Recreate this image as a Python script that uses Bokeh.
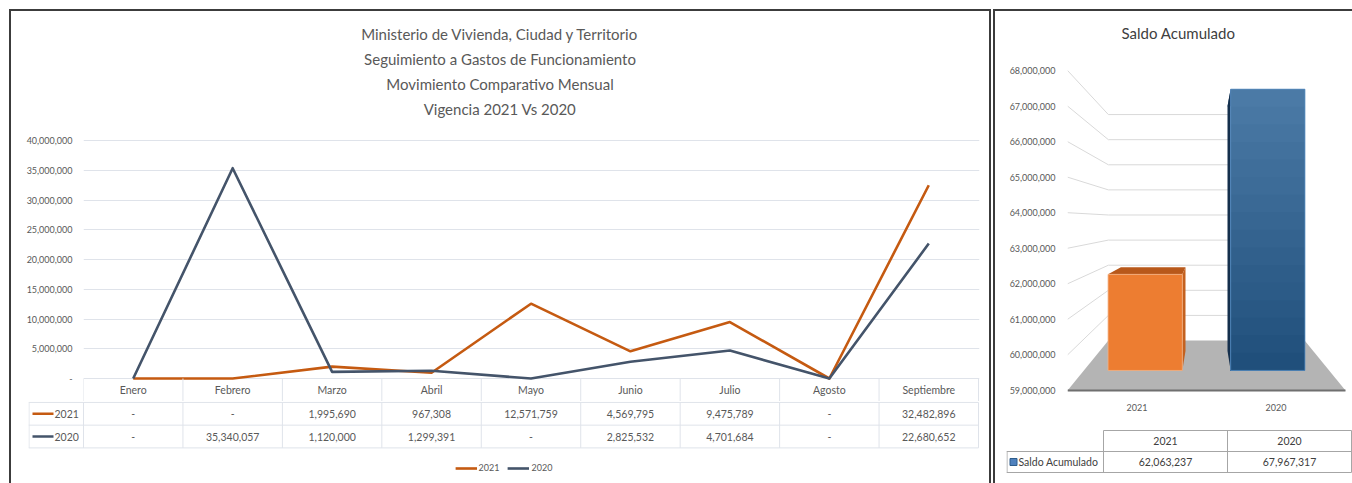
from bokeh.plotting import figure
from bokeh.models import Range1d, FixedTicker, NumeralTickFormatter, Legend, LegendItem
from bokeh.layouts import row, column
from bokeh.embed import file_html
from bokeh.resources import INLINE

# ---------------- data ----------------
months = ["Enero", "Febrero", "Marzo", "Abril", "Mayo", "Junio", "Julio", "Agosto", "Septiembre"]
v2021 = [0, 0, 1995690, 967308, 12571759, 4569795, 9475789, 0, 32482896]
v2020 = [0, 35340057, 1120000, 1299391, 0, 2825532, 4701684, 0, 22680652]
series_names = ["2021", "2020"]
title_lines = ["Ministerio de Vivienda, Ciudad y Territorio",
               "Seguimiento a Gastos de Funcionamiento",
               "Movimiento Comparativo Mensual",
               "Vigencia 2021 Vs 2020"]
left_ticks = [0, 5000000, 10000000, 15000000, 20000000, 25000000, 30000000, 35000000, 40000000]

saldo_title = "Saldo Acumulado"
saldo_cats = ["2021", "2020"]
saldo_vals = [62063237, 67967317]
right_ticks = [59000000, 60000000, 61000000, 62000000, 63000000, 64000000,
               65000000, 66000000, 67000000, 68000000]

# ---------------- style ----------------
FONT = "Lato"
TXT = "#595959"
C2021 = "#C55A11"
C2020 = "#44546A"
GRID = "#dfe3ea"
BORDER = "#3c3c3c"


def fmt(v):
    return "-" if v == 0 else f"{v:,}"


def base_fig(**kw):
    p = figure(output_backend="svg", toolbar_location=None, **kw)
    p.outline_line_color = None
    p.background_fill_color = "white"
    p.border_fill_color = "white"
    p.frame_align = False
    return p


def style_axis(ax, standoff):
    ax.axis_line_color = None
    ax.major_tick_line_color = None
    ax.minor_tick_line_color = None
    ax.major_tick_out = 0
    ax.major_tick_in = 0
    ax.minor_tick_out = 0
    ax.major_label_text_font = FONT
    ax.major_label_text_font_size = "9px"
    ax.major_label_text_color = TXT
    ax.major_label_standoff = standoff


def mix(c1, c2, t):
    a = [int(c1[k:k + 2], 16) for k in (1, 3, 5)]
    b = [int(c2[k:k + 2], 16) for k in (1, 3, 5)]
    return "#%02x%02x%02x" % tuple(round(a[j] + (b[j] - a[j]) * t) for j in range(3))


# ================= LEFT PANEL =================
n = len(months)
xs = list(range(n))
uA = 99.44                          # px per month column
pxM = 238 / left_ticks[-1]          # px per unit of value
head_h = 23 / pxM                   # header row height in value units
top_room = 129 / pxM                # title area above the 40M line
pA = base_fig(width=978, height=390,
              x_range=Range1d(-0.5, n - 0.5 + 1 / uA),
              y_range=Range1d(-head_h, left_ticks[-1] + top_room),
              x_axis_type=None,
              min_border_left=72, min_border_right=10, min_border_top=0, min_border_bottom=0)
yax = pA.yaxis[0]
style_axis(yax, 11)
yax.ticker = FixedTicker(ticks=left_ticks)
yax.formatter = NumeralTickFormatter(format="0,0")
yax.major_label_overrides = {0: "-"}
pA.ygrid.ticker = FixedTicker(ticks=left_ticks)
pA.ygrid.grid_line_color = GRID
pA.ygrid.grid_line_width = 1

# title lines (centred on the panel)
tx = -0.5 + (499.5 - 83) / uA
ty = [left_ticks[-1] + (140 - yy) / pxM for yy in (33, 58, 83, 108)]
pA.text(x=[tx] * len(title_lines), y=ty, text=title_lines, text_font={"value": FONT},
        text_font_size="15px", text_color=TXT, text_align="center", text_baseline="middle")

pA.line(xs, v2021, line_color=C2021, line_width=2.6, line_join="round")
pA.line(xs, v2020, line_color=C2020, line_width=2.6, line_join="round")

# header row of the data table
vxA = [-0.5 + k for k in range(n + 1)]
pA.segment(x0=vxA, y0=[0] * (n + 1), x1=vxA, y1=[-head_h] * (n + 1),
           line_color=GRID, line_width=1)
tstyle = dict(text_font_size="10.5px", text_color=TXT, text_align="center",
              text_baseline="middle", text_font={"value": FONT})
pA.text(x=xs, y=[-head_h / 2] * n, text=months, **tstyle)

# ---- data rows + legend ----
xB0 = -0.5 - 55 / uA
row_h = 23
pB = base_fig(width=978, height=82,
              x_range=Range1d(xB0, n - 0.5 + 1 / uA),
              y_range=Range1d(82 / row_h, -0.04),
              x_axis_type=None, y_axis_type=None,
              min_border_left=17, min_border_right=10, min_border_top=0, min_border_bottom=0)
pB.segment(x0=[xB0] * 3, y0=[0, 1, 2], x1=[n - 0.5] * 3, y1=[0, 1, 2],
           line_color=GRID, line_width=1)
vxB = vxA + [xB0 + 0.5 / uA]
pB.segment(x0=vxB, y0=[0] * (n + 2), x1=vxB, y1=[2] * (n + 2), line_color=GRID, line_width=1)
pB.text(x=xs, y=[0.5] * n, text=[fmt(v) for v in v2021], **tstyle)
pB.text(x=xs, y=[1.5] * n, text=[fmt(v) for v in v2020], **tstyle)

items = []
for r, (name, col) in enumerate(zip(series_names, [C2021, C2020])):
    yy = 0.5 + r
    sw = pB.line([xB0 + 4 / uA, xB0 + 25 / uA], [yy, yy], line_color=col, line_width=2.6)
    pB.text(x=[xB0 + 26 / uA], y=[yy], text=[name], text_font_size="10.5px", text_color=TXT,
            text_align="left", text_baseline="middle", text_font={"value": FONT})
    items.append(LegendItem(label=name, renderers=[sw]))
leg = Legend(items=items, orientation="horizontal", location="bottom_center",
             label_text_font=FONT, label_text_font_size="9px", label_text_color=TXT,
             glyph_width=22, glyph_height=10, spacing=8, padding=0, margin=10,
             label_standoff=2, border_line_color=None, background_fill_alpha=0)
pB.add_layout(leg)

# ================= RIGHT PANEL =================
px_per_M = 35.56
uC = 139
yC0 = right_ticks[0] - 5 / px_per_M * 1e6
yC1 = right_ticks[0] + 379 / px_per_M * 1e6
pC = base_fig(width=357, height=409,
              x_range=Range1d(-0.5, -0.5 + 285 / uC),
              y_range=Range1d(yC0, yC1),
              min_border_left=72, min_border_right=0, min_border_top=0, min_border_bottom=25)
pC.grid.visible = False
style_axis(pC.xaxis[0], 8)
style_axis(pC.yaxis[0], 12)
pC.yaxis[0].ticker = FixedTicker(ticks=right_ticks)
pC.yaxis[0].formatter = NumeralTickFormatter(format="0,0")
pC.xaxis[0].ticker = FixedTicker(ticks=list(range(len(saldo_cats))))
pC.xaxis[0].major_label_overrides = {i: c for i, c in enumerate(saldo_cats)}

pC.text(x=[-0.5 + (1178 - 1067) / uC], y=[right_ticks[0] + (390 - 32) / px_per_M * 1e6],
        text=[saldo_title], text_font={"value": FONT}, text_font_size="15px",
        text_color="#404040", text_align="center", text_baseline="middle")

# perspective model (layout constants)
vp_x = (len(saldo_cats) - 1) / 2
vp_y = right_ticks[0] + 170 / px_per_M * 1e6
s_back, s_bar1, s_bar2 = 0.706, 0.882, 0.767
base = right_ticks[0]
xl, xr = -0.5, len(saldo_cats) - 0.5


def proj(cx, v, s):
    return vp_x + (cx - vp_x) * s, vp_y + (v - vp_y) * s


# gridlines: side wall + back wall
gx, gy = [], []
for t in right_ticks[1:]:
    pts = [proj(xl, t, 1), proj(xl, t, s_back), proj(xr, t, s_back)]
    gx.append([p[0] for p in pts])
    gy.append([p[1] for p in pts])
pC.multi_line(gx, gy, line_color="#d9d9d9", line_width=1)

# floor
fl = [proj(xl, base, 1), proj(xr, base, 1), proj(xr, base, s_back), proj(xl, base, s_back)]
pC.patch([p[0] for p in fl], [p[1] for p in fl], fill_color="#b4b4b4", line_color=None)
fe = [proj(xl, base, 1), proj(xr, base, 1)]
pC.line([p[0] for p in fe], [p[1] for p in fe], line_color="#6f6f6f", line_width=2)

# bars
bw = 0.606
bands = 16
pal_2021 = {"top_c": "#ED7D31", "bot_c": "#ED7D31", "top": "#B8581A", "side": "#C4611F",
            "edge": "#F4B183"}
pal_2020 = {"top_c": "#4C7BA7", "bot_c": "#1F4E7A", "top": "#244D77", "side": "#142F4C",
            "edge": "#5B8FC4"}
back_x, back_y, back_c = [], [], []
full_x, full_y, full_c = [], [], []
band_x, band_y, band_c = [], [], []
for i, v in enumerate(saldo_vals):
    c = i
    pal = pal_2021 if i == 0 else pal_2020
    a, b = c - bw / 2, c + bw / 2
    top = [proj(a, v, s_bar1), proj(b, v, s_bar1), proj(b, v, s_bar2), proj(a, v, s_bar2)]
    e = b if c < vp_x else a
    side = [proj(e, base, s_bar1), proj(e, v, s_bar1), proj(e, v, s_bar2), proj(e, base, s_bar2)]
    for poly, key in ((top, "top"), (side, "side")):
        back_x.append([p[0] for p in poly])
        back_y.append([p[1] for p in poly])
        back_c.append(pal[key])
    fr = [proj(a, base, s_bar1), proj(b, base, s_bar1), proj(b, v, s_bar1), proj(a, v, s_bar1)]
    full_x.append([p[0] for p in fr])
    full_y.append([p[1] for p in fr])
    full_c.append(mix(pal["bot_c"], pal["top_c"], 0.5))
    if pal["top_c"] != pal["bot_c"]:
        # front face shaded from bottom to top: overlapping bands, tallest first
        for k in range(bands - 1, -1, -1):
            v1 = base + (v - base) * (k + 1) / bands
            bb = [proj(a, base, s_bar1), proj(b, base, s_bar1), proj(b, v1, s_bar1), proj(a, v1, s_bar1)]
            band_x.append([p[0] for p in bb])
            band_y.append([p[1] for p in bb])
            band_c.append(mix(pal["bot_c"], pal["top_c"], (k + 0.5) / bands))
edge_c = [pal_2021["edge"], pal_2020["edge"]][:len(saldo_vals)]
pC.patches(back_x, back_y, fill_color=back_c, line_color=None)
pC.patches(full_x, full_y, fill_color=full_c, line_color=None)
pC.patches(band_x, band_y, fill_color=band_c, line_color=None)
pC.patches(full_x, full_y, fill_color=None, line_color=edge_c, line_width=0.8)

# ---- table under the bar chart ----
uD = 124
xD0 = -0.5 - 97 / uD
m = len(saldo_cats)
rD = 21
pD = base_fig(width=357, height=63,
              x_range=Range1d(xD0, xD0 + 346 / uD),
              y_range=Range1d(53 / rD, -10 / rD),
              x_axis_type=None, y_axis_type=None,
              min_border_left=11, min_border_right=0, min_border_top=0, min_border_bottom=0)
TB = "#a6a6a6"
pD.segment(x0=[-0.5, xD0, xD0], y0=[0, 1, 2], x1=[m - 0.5] * 3, y1=[0, 1, 2],
           line_color=TB, line_width=1)
vx = [-0.5 + k for k in range(m + 1)] + [xD0 + 0.5 / uD]
pD.segment(x0=vx, y0=[0] * (m + 1) + [1], x1=vx, y1=[2] * (m + 2), line_color=TB, line_width=1)
t2 = dict(text_font_size="10.5px", text_color="#404040", text_align="center",
          text_baseline="middle", text_font={"value": FONT})
pD.text(x=list(range(m)), y=[0.5] * m, text=saldo_cats, **t2)
pD.text(x=list(range(m)), y=[1.5] * m, text=[fmt(v) for v in saldo_vals], **t2)
pD.scatter(x=[xD0 + 7 / uD], y=[1.5], marker="square", size=7,
           fill_color="#4F81BD", line_color="#2E5D8C")
pD.text(x=[xD0 + 12 / uD], y=[1.5], text=[saldo_title], text_font_size="10.5px",
        text_color="#404040", text_align="left", text_baseline="middle",
        text_font={"value": FONT})

# ================= layout =================
sh_left = ("0 -2px 0 0 %s, -2px 0 0 0 %s, 2px 0 0 0 %s, -2px -2px 0 0 %s, 2px -2px 0 0 %s"
           % ((BORDER,) * 5))
sh_right = "0 -2px 0 0 %s, -2px 0 0 0 %s, -2px -2px 0 0 %s" % ((BORDER,) * 3)
left = column(pA, pB, margin=(11, 3, 0, 11), styles={"box-shadow": sh_left})
right = column(pC, pD, margin=(11, 0, 0, 3), styles={"box-shadow": sh_right})
layout = row(left, right)

open("out.html", "w").write(file_html(layout, INLINE))
